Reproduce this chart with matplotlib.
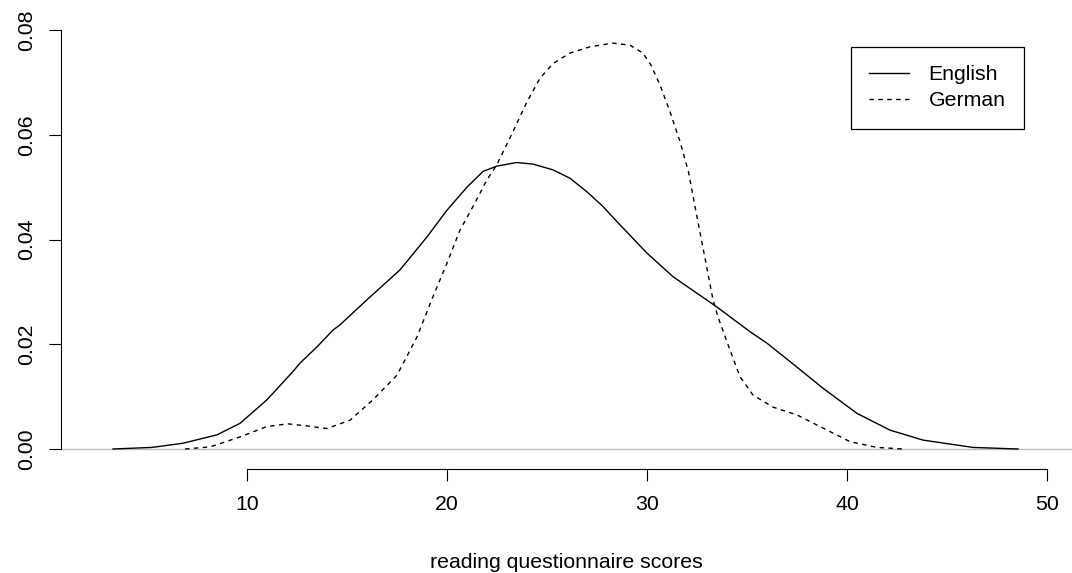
import numpy as np
import matplotlib
matplotlib.use('Agg')
import matplotlib.pyplot as plt

# density estimates
eng_x = [3.3, 5.25, 6.8, 8.5, 9.65, 11.0, 12.3, 12.65, 13.5, 14.3, 14.65, 16.0,
         17.65, 19.0, 20.0, 21.0, 21.8, 22.48, 23.48, 24.3, 25.3, 26.15, 27.0,
         27.8, 28.5, 30.0, 31.3, 33.5, 35.15, 36.0, 37.15, 38.8, 40.5, 42.15,
         43.8, 46.3, 48.55]
eng_y = [0.0, 0.0003, 0.0011, 0.0027, 0.0049, 0.0094, 0.0148, 0.0164, 0.0195, 0.0227,
         0.0237, 0.0285, 0.0342, 0.0405, 0.0456, 0.0500, 0.0530, 0.0540, 0.0547,
         0.0544, 0.0533, 0.0517, 0.0491, 0.0463, 0.0434, 0.0374, 0.0329, 0.0271,
         0.0224, 0.0202, 0.0167, 0.0116, 0.0068, 0.0036, 0.0017, 0.0003, 0.0]

ger_x = [6.9, 8.15, 9.65, 11.0, 12.05, 13.0, 14.0, 15.15, 16.3, 17.5, 18.5, 19.3,
         20.0, 20.65, 21.3, 22.0, 22.48, 23.3, 24.0, 24.65, 25.3, 26.15, 27.15,
         28.3, 29.15, 29.8, 30.2, 30.65, 31.15, 31.65, 32.07, 32.48, 32.8, 33.3,
         33.55, 34.15, 34.65, 35.3, 36.3, 37.5, 38.8, 40.15, 41.5, 42.8]
ger_y = [0.0, 0.0004, 0.0023, 0.0043, 0.0048, 0.0044, 0.0039, 0.0055, 0.0094,
         0.0141, 0.0214, 0.0291, 0.0355, 0.0418, 0.0463, 0.0514, 0.0542, 0.0606,
         0.0663, 0.0708, 0.0736, 0.0756, 0.0768, 0.0775, 0.0771, 0.0756, 0.0733,
         0.0695, 0.0644, 0.0587, 0.0530, 0.0447, 0.0384, 0.0285, 0.0252, 0.0189,
         0.0138, 0.0103, 0.0080, 0.0065, 0.0040, 0.0014, 0.0003, 0.0]

xticks = [10, 20, 30, 40, 50]
yticks = [0.00, 0.02, 0.04, 0.06, 0.08]
ytick_labels = ['0.00', '0.02', '0.04', '0.06', '0.08']

plt.rcParams['font.family'] = ['Liberation Sans', 'DejaVu Sans']
fs = 15.3

W, H = 1072, 573
fig = plt.figure(figsize=(W / 100, H / 100), dpi=100)
ax = fig.add_axes([61 / W, 1 - 469 / H, (W - 61) / W, (469 - 23) / H])

ax.axhline(0, color='#bebebe', lw=1.0, zorder=1)
ax.plot(eng_x, eng_y, color='black', lw=1.0, label='English', zorder=3)
ax.plot(ger_x, ger_y, color='black', lw=1.0, dashes=(3.2, 3.2), label='German', zorder=3)

ax.set_xlim(0.7, 51.25)
ax.set_ylim(-0.00382, 0.08134)

for s in ['top', 'right']:
    ax.spines[s].set_visible(False)
ax.spines['left'].set_bounds(0, 0.08)
ax.spines['bottom'].set_bounds(10, 50)
ax.spines['left'].set_linewidth(0.8)
ax.spines['bottom'].set_linewidth(0.8)

ax.set_xticks(xticks)
ax.set_xticklabels([str(t) for t in xticks])
ax.set_yticks(yticks)
ax.set_yticklabels(ytick_labels)
ax.tick_params(axis='x', direction='out', length=8.6, width=0.8, pad=10.0, labelsize=fs)
ax.tick_params(axis='y', direction='out', length=8.6, width=0.8, pad=9.0, labelsize=fs)
for lab in ax.get_yticklabels():
    lab.set_rotation(90)
    lab.set_va('center')

fig.text(566.5 / W, 1 - 568 / H, 'reading questionnaire scores', ha='center',
         va='baseline', fontsize=fs)

leg = ax.legend(loc='upper left', bbox_to_anchor=(851 / W, 1 - 47 / H),
                bbox_transform=fig.transFigure, fontsize=fs, frameon=True,
                fancybox=False, edgecolor='black', framealpha=1,
                handlelength=1.9, handletextpad=0.9, borderpad=0.85,
                labelspacing=0.35, borderaxespad=0)
leg.get_frame().set_linewidth(0.9)

fig.savefig('out.png', dpi=100)
